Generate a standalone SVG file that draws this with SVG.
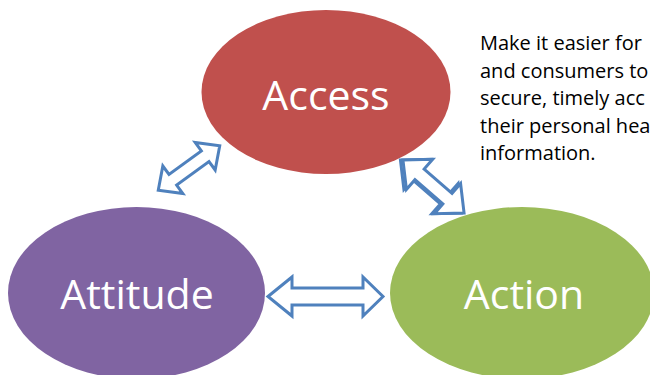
<svg xmlns="http://www.w3.org/2000/svg" width="650" height="375" viewBox="0 0 650 375">
  <style>
    .node-label { font-family: "Open Sans", "Liberation Sans", sans-serif; font-size: 41px; fill: #ffffff; text-anchor: middle; }
    .note { font-family: "Open Sans", "Liberation Sans", sans-serif; font-size: 20px; fill: #000000; }
    .arrow { fill: #ffffff; stroke: #4f81bd; stroke-width: 3; stroke-linejoin: miter; }
  </style>
  <defs>
    <!-- double-headed block arrows, centred on the origin, pointing along x -->
    <path id="dbl-small" d="M -38 0 L -20 -17 L -20 -6.5 L 20 -6.5 L 20 -17 L 38 0 L 20 17 L 20 6.5 L -20 6.5 L -20 17 Z"/>
    <path id="dbl-med" d="M -40.5 0 L -18.5 -20 L -18.5 -7 L 18.5 -7 L 18.5 -20 L 40.5 0 L 18.5 20 L 18.5 7 L -18.5 7 L -18.5 20 Z"/>
  </defs>
  <rect width="650" height="375" fill="#ffffff"/>

  <g id="access">
    <ellipse cx="326" cy="92" rx="124.5" ry="82" fill="#c0504d"/>
    <text class="node-label" x="326" y="110">Access</text>
  </g>

  <g id="attitude">
    <ellipse cx="136.5" cy="293" rx="128.5" ry="86" fill="#8064a2"/>
    <text class="node-label" x="137" y="309">Attitude</text>
  </g>

  <g id="action">
    <ellipse cx="522" cy="293" rx="132" ry="86" fill="#9bbb59"/>
    <text class="node-label" x="524" y="309">Action</text>
  </g>

  <g id="connectors">
    <!-- Access <-> Attitude -->
    <use href="#dbl-small" class="arrow" transform="translate(189 168) rotate(-36)"/>
    <!-- Access <-> Action, drawn with a doubled outline -->
    <use href="#dbl-med" class="arrow" transform="translate(431 186.5) rotate(41)"/>
    <use href="#dbl-med" class="arrow" transform="translate(433.5 186.5) rotate(41)"/>
    <!-- Attitude <-> Action -->
    <path class="arrow" d="M 268 296.5 L 292 277 L 292 288 L 363 288 L 363 277 L 383 296.5 L 363 316 L 363 305 L 292 305 L 292 316 Z"/>
  </g>

  <g id="note">
    <text class="note" x="480" y="50">Make it easier for</text>
    <text class="note" x="480" y="77.5">and consumers to</text>
    <text class="note" x="480" y="105">secure, timely acc</text>
    <text class="note" x="480" y="132.5">their personal hea</text>
    <text class="note" x="480" y="160">information.</text>
  </g>
</svg>
